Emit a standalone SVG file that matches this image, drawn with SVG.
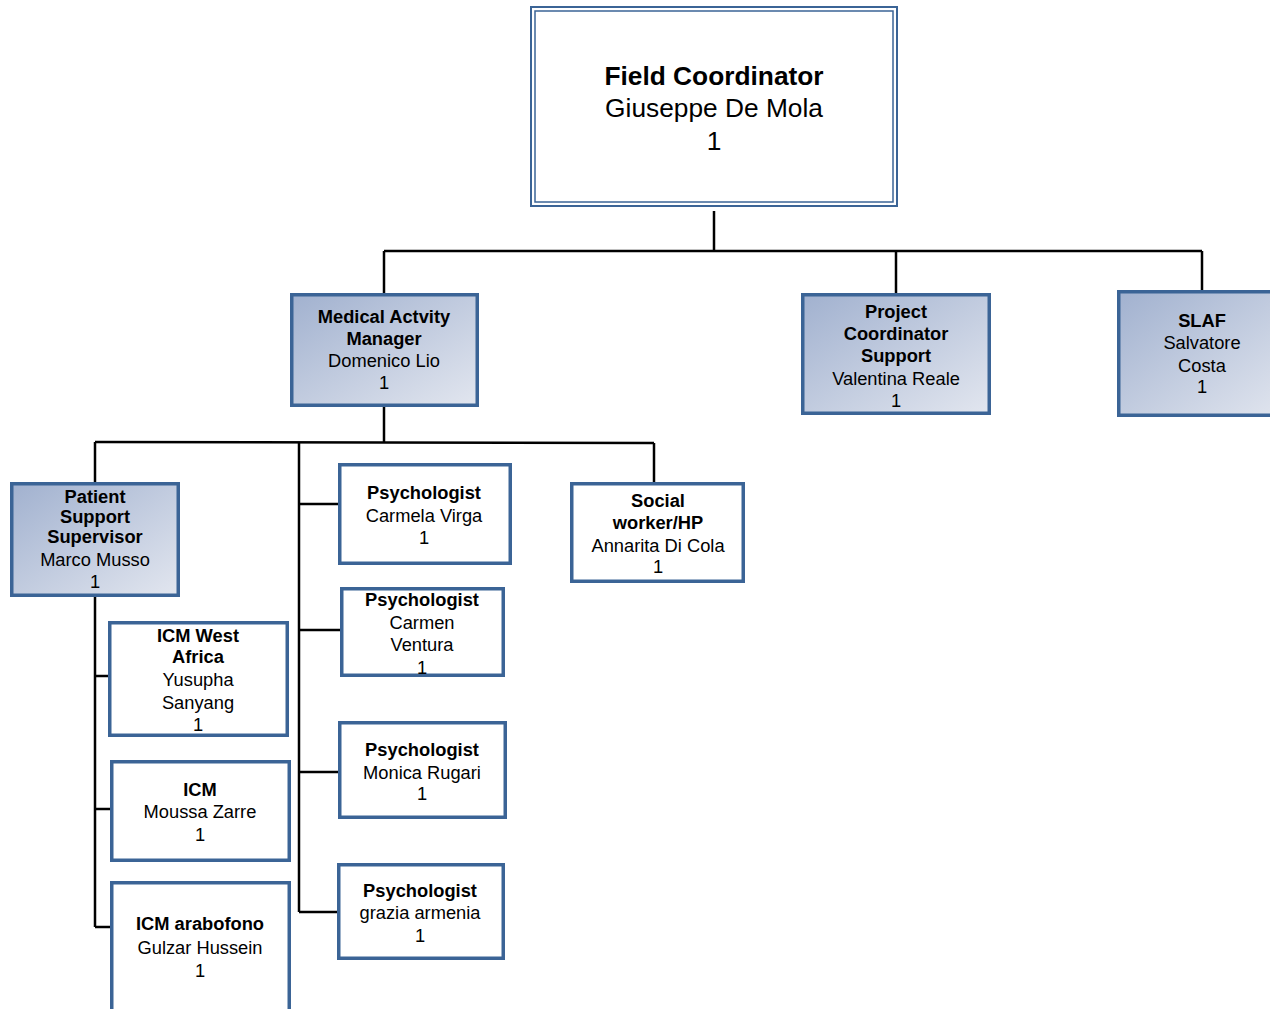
<svg xmlns="http://www.w3.org/2000/svg" width="1270" height="1009" viewBox="0 0 1270 1009">
<defs>
<linearGradient id="g" x1="0" y1="0" x2="1" y2="1">
<stop offset="0" stop-color="#a1b1cf"/>
<stop offset="1" stop-color="#e2e6ef"/>
</linearGradient>
<style>
.box{stroke:#3b6496;stroke-width:3.5}
.grad{fill:url(#g)}
.white{fill:#ffffff}
text{font-family:"Liberation Sans",Arial,sans-serif;font-size:18.3px;fill:#000;text-anchor:middle}
.b{font-weight:bold}
.big{font-size:26.3px}
.conn{stroke:#000;stroke-width:2.5;fill:none}
</style>
</defs>
<rect width="1270" height="1009" fill="#ffffff"/>
<g id="connectors" class="conn">
<path d="M714,211 V251"/>
<path d="M384,251 H1202"/>
<path d="M384,251 V293"/>
<path d="M896,251 V293"/>
<path d="M1202,251 V290"/>
<path d="M384,407 V442"/>
<path d="M95,442 L654,443"/>
<path d="M95,442 V482"/>
<path d="M299,442 V912"/>
<path d="M654,443 V482"/>
<path d="M299,504 H338"/>
<path d="M299,630 H340"/>
<path d="M299,772 H338"/>
<path d="M299,912 H337"/>
<path d="M95,597 V927"/>
<path d="M95,676 H108"/>
<path d="M95,809 H110"/>
<path d="M95,927 H110"/>
</g>
<g id="field-coordinator">
<rect x="531" y="7" width="366" height="199" fill="#ffffff" stroke="#3b6496" stroke-width="2"/>
<rect x="535" y="11" width="358" height="191" fill="none" stroke="#3b6496" stroke-width="1.5"/>
<text class="big b" x="714" y="85">Field Coordinator</text>
<text class="big" x="714" y="117">Giuseppe De Mola</text>
<text class="big" x="714" y="150">1</text>
</g>
<g id="medical-activity-manager">
<rect class="box grad" x="291.75" y="294.75" width="185.5" height="110.5"/>
<text class="b" x="384" y="323">Medical Actvity</text>
<text class="b" x="384" y="345">Manager</text>
<text x="384" y="367">Domenico Lio</text>
<text x="384" y="389">1</text>
</g>
<g id="project-coordinator-support">
<rect class="box grad" x="802.75" y="294.75" width="186.5" height="118.5"/>
<text class="b" x="896" y="318">Project</text>
<text class="b" x="896" y="340">Coordinator</text>
<text class="b" x="896" y="362">Support</text>
<text x="896" y="385">Valentina Reale</text>
<text x="896" y="407">1</text>
</g>
<g id="slaf">
<rect class="box grad" x="1118.75" y="291.75" width="170" height="123.5"/>
<text class="b" x="1202" y="327">SLAF</text>
<text x="1202" y="349">Salvatore</text>
<text x="1202" y="372">Costa</text>
<text x="1202" y="393">1</text>
</g>
<g id="patient-support-supervisor">
<rect class="box grad" x="11.75" y="483.75" width="166.5" height="111.5"/>
<text class="b" x="95" y="503">Patient</text>
<text class="b" x="95" y="523">Support</text>
<text class="b" x="95" y="543">Supervisor</text>
<text x="95" y="566">Marco Musso</text>
<text x="95" y="588">1</text>
</g>
<g id="icm-west-africa">
<rect class="box white" x="109.75" y="622.75" width="177.5" height="112.5"/>
<text class="b" x="198" y="642">ICM West</text>
<text class="b" x="198" y="663">Africa</text>
<text x="198" y="686">Yusupha</text>
<text x="198" y="709">Sanyang</text>
<text x="198" y="731">1</text>
</g>
<g id="icm">
<rect class="box white" x="111.75" y="761.75" width="177.5" height="98.5"/>
<text class="b" x="200" y="796">ICM</text>
<text x="200" y="818">Moussa Zarre</text>
<text x="200" y="841">1</text>
</g>
<g id="icm-arabofono">
<rect class="box white" x="111.75" y="882.75" width="177.5" height="140"/>
<text class="b" x="200" y="930">ICM arabofono</text>
<text x="200" y="954">Gulzar Hussein</text>
<text x="200" y="977">1</text>
</g>
<g id="psychologist-carmela-virga">
<rect class="box white" x="339.75" y="464.75" width="170.5" height="98.5"/>
<text class="b" x="424" y="499">Psychologist</text>
<text x="424" y="522">Carmela Virga</text>
<text x="424" y="544">1</text>
</g>
<g id="psychologist-carmen-ventura">
<rect class="box white" x="341.75" y="588.75" width="161.5" height="86.5"/>
<text class="b" x="422" y="606">Psychologist</text>
<text x="422" y="629">Carmen</text>
<text x="422" y="651">Ventura</text>
<text x="422" y="674">1</text>
</g>
<g id="psychologist-monica-rugari">
<rect class="box white" x="339.75" y="722.75" width="165.5" height="94.5"/>
<text class="b" x="422" y="756">Psychologist</text>
<text x="422" y="779">Monica Rugari</text>
<text x="422" y="800">1</text>
</g>
<g id="psychologist-grazia-armenia">
<rect class="box white" x="338.75" y="864.75" width="164.5" height="93.5"/>
<text class="b" x="420" y="897">Psychologist</text>
<text x="420" y="919">grazia armenia</text>
<text x="420" y="942">1</text>
</g>
<g id="social-worker">
<rect class="box white" x="571.75" y="483.75" width="171.5" height="97.5"/>
<text class="b" x="658" y="507">Social</text>
<text class="b" x="658" y="529">worker/HP</text>
<text x="658" y="552">Annarita Di Cola</text>
<text x="658" y="573">1</text>
</g>
</svg>
